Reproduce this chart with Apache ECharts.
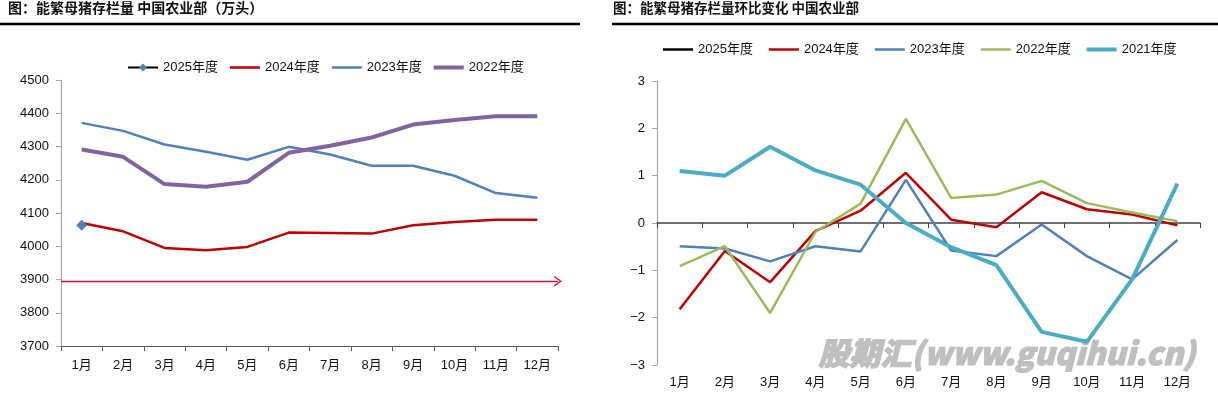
<!DOCTYPE html>
<html>
<head>
<meta charset="utf-8">
<script src="https://cdn.jsdelivr.net/npm/echarts@6/dist/echarts.min.js"></script>
<style>
html,body{margin:0;padding:0;background:#fff;}
#left{position:absolute;left:0;top:0;width:609px;height:395px;}
#right{position:absolute;left:609px;top:0;width:609px;height:395px;}
</style>
</head>
<body>
<div id="left"></div>
<div id="right"></div>
<script>
// ---------- data ----------
const months = ['1月','2月','3月','4月','5月','6月','7月','8月','9月','10月','11月','12月'];

// Left: 能繁母猪存栏量 (万头)
const stock2025 = [4063];
const stock2024 = [4070, 4045, 3995, 3988, 3998, 4041, 4040, 4038, 4063, 4073, 4080, 4080];
const stock2023 = [4371, 4347, 4306, 4284, 4260, 4299, 4276, 4242, 4242, 4212, 4160, 4146];
const stock2022 = [4291, 4269, 4187, 4179, 4194, 4281, 4302, 4327, 4366, 4380, 4391, 4391];
const refLevel = 3895;

// Right: 环比变化 (%)
const mom2025 = [];
const mom2024 = [-1.82, -0.59, -1.25, -0.17, 0.26, 1.06, 0.07, -0.09, 0.65, 0.29, 0.18, -0.05];
const mom2023 = [-0.49, -0.54, -0.81, -0.49, -0.60, 0.91, -0.58, -0.70, -0.03, -0.70, -1.19, -0.36];
const mom2022 = [-0.91, -0.49, -1.90, -0.19, 0.41, 2.20, 0.53, 0.60, 0.89, 0.42, 0.22, 0.04];
const mom2021 = [1.10, 1.00, 1.61, 1.11, 0.81, 0.00, -0.51, -0.89, -2.30, -2.51, -1.19, 0.83];

const leftNames = ['2025年度','2024年度','2023年度','2022年度'];
const rightNames = ['2025年度','2024年度','2023年度','2022年度','2021年度'];

// ---------- styles ----------
const FONT = "'Liberation Sans','Noto Sans CJK SC',sans-serif";
const TITLE_FONT = "'Noto Sans CJK SC','Liberation Sans',sans-serif";
const C = {k:'#000000', red:'#C00000', blue:'#4F81BD', purple:'#8064A2', green:'#9BBB59', teal:'#4BACC6'};
// legend line icons: bounding points fix the box (30x10), inner bar gives thickness
function lineIcon(th){
  const a = 5 - th/2, b = 5 + th/2;
  return 'path://M0,0 L0,0 Z M0,' + a + ' L30,' + a + ' L30,' + b + ' L0,' + b + ' Z M30,10 L30,10 Z';
}
const chevron = 'path://M0,10 L5,0 L10,10 L8.6,10 L5,2.8 L1.4,10 Z';

// ---------- left chart ----------
const left = echarts.init(document.getElementById('left'));
left.setOption({
  animation:false,
  textStyle:{fontFamily:FONT},
  graphic:[
    {type:'text', left:8, top:1, style:{text:'图：能繁母猪存栏量 中国农业部（万头）', fontFamily:TITLE_FONT, fontSize:14, fontWeight:'bold', fill:'#111'}},
    {type:'line', shape:{x1:0,y1:24,x2:580,y2:24}, style:{stroke:'#000', lineWidth:2.5}}
  ],
  legend:{
    data:[
      {name:leftNames[0]},
      {name:leftNames[1], icon:lineIcon(2.4)},
      {name:leftNames[2], icon:lineIcon(2.4)},
      {name:leftNames[3], icon:lineIcon(4)}
    ],
    left:122, top:56, itemWidth:30, itemHeight:10, itemGap:12,
    textStyle:{fontSize:13, color:'#111', fontFamily:FONT}
  },
  grid:{left:61, right:51, top:80, bottom:49},
  xAxis:{
    type:'category', data:months, boundaryGap:true,
    axisLine:{lineStyle:{color:'#595959', width:1.2}},
    axisTick:{show:true, length:5, inside:false, lineStyle:{color:'#595959'}},
    axisLabel:{color:'#111', fontSize:13, margin:13, interval:0}
  },
  yAxis:{
    type:'value', min:3700, max:4500, interval:100,
    splitLine:{show:false},
    axisLine:{show:true, lineStyle:{color:'#a6a6a6', width:1.2}},
    axisTick:{show:true, length:5, lineStyle:{color:'#a6a6a6'}},
    axisLabel:{color:'#111', fontSize:13, margin:12, formatter:function(v){return String(v);}}
  },
  series:[
    {name:'2025年度', type:'line', data:stock2025, z:5, symbol:'diamond', symbolSize:11, showSymbol:true,
      itemStyle:{color:C.blue}, lineStyle:{color:C.k, width:2.5}},
    {name:'2024年度', type:'line', data:stock2024, symbol:'none', itemStyle:{color:C.red}, lineStyle:{color:C.red, width:2.5},
      markLine:{silent:true, symbol:['none', chevron], symbolSize:[11,8], label:{show:false},
        lineStyle:{color:'#D0103A', width:1.4, type:'solid', opacity:1},
        emphasis:{disabled:true}, data:[{yAxis:refLevel}]}},
    {name:'2023年度', type:'line', data:stock2023, symbol:'none', itemStyle:{color:C.blue}, lineStyle:{color:C.blue, width:2.5}},
    {name:'2022年度', type:'line', data:stock2022, symbol:'none', itemStyle:{color:C.purple}, lineStyle:{color:C.purple, width:4}}
  ]
});

// ---------- right chart ----------
const right = echarts.init(document.getElementById('right'));
right.setOption({
  animation:false,
  textStyle:{fontFamily:FONT},
  graphic:[
    {type:'text', left:4, top:1, style:{text:'图：能繁母猪存栏量环比变化 中国农业部', fontFamily:TITLE_FONT, fontSize:13.5, fontWeight:'bold', fill:'#111'}},
    {type:'line', shape:{x1:3,y1:24,x2:609,y2:24}, style:{stroke:'#000', lineWidth:2.5}},
    {type:'text', left:209, top:337, z:-10, style:{text:'股期汇(www.guqihui.cn)', fontFamily:TITLE_FONT, fontSize:31, fontWeight:900, fontStyle:'italic', fill:'#bfbfbf', stroke:'#bfbfbf', lineWidth:1.2}}
  ],
  legend:{
    data:[
      {name:rightNames[0], icon:lineIcon(2.4)},
      {name:rightNames[1], icon:lineIcon(2.4)},
      {name:rightNames[2], icon:lineIcon(2.4)},
      {name:rightNames[3], icon:lineIcon(2.4)},
      {name:rightNames[4], icon:lineIcon(4)}
    ],
    left:49, top:38, itemWidth:30, itemHeight:10, itemGap:16,
    textStyle:{fontSize:13, color:'#111', fontFamily:FONT}
  },
  grid:{left:48, right:18, top:81, bottom:30},
  xAxis:[
    {type:'category', data:months, boundaryGap:true,
      axisLine:{onZero:true, lineStyle:{color:'#404040', width:1.5}},
      axisTick:{show:true, length:5, lineStyle:{color:'#404040'}},
      axisLabel:{show:false}},
    {type:'category', data:months, boundaryGap:true, position:'bottom',
      axisLine:{show:false, onZero:false}, axisTick:{show:false},
      axisLabel:{color:'#111', fontSize:13, margin:11, interval:0}}
  ],
  yAxis:{
    type:'value', min:-3, max:3, interval:1,
    splitLine:{show:false},
    axisLine:{show:true, lineStyle:{color:'#a6a6a6', width:1.2}},
    axisTick:{show:true, length:5, lineStyle:{color:'#a6a6a6'}},
    axisLabel:{color:'#111', fontSize:13, margin:12, formatter:function(v){return String(v).replace('-', '\u2212');}}
  },
  series:[
    {name:'2025年度', type:'line', data:mom2025, symbol:'none', itemStyle:{color:C.k}, lineStyle:{color:C.k, width:2.5}},
    {name:'2024年度', type:'line', data:mom2024, symbol:'none', itemStyle:{color:C.red}, lineStyle:{color:C.red, width:2.5}},
    {name:'2023年度', type:'line', data:mom2023, symbol:'none', itemStyle:{color:C.blue}, lineStyle:{color:C.blue, width:2.5}},
    {name:'2022年度', type:'line', data:mom2022, symbol:'none', itemStyle:{color:C.green}, lineStyle:{color:C.green, width:2.5}},
    {name:'2021年度', type:'line', data:mom2021, symbol:'none', itemStyle:{color:C.teal}, lineStyle:{color:C.teal, width:4}}
  ]
});
</script>
</body>
</html>
